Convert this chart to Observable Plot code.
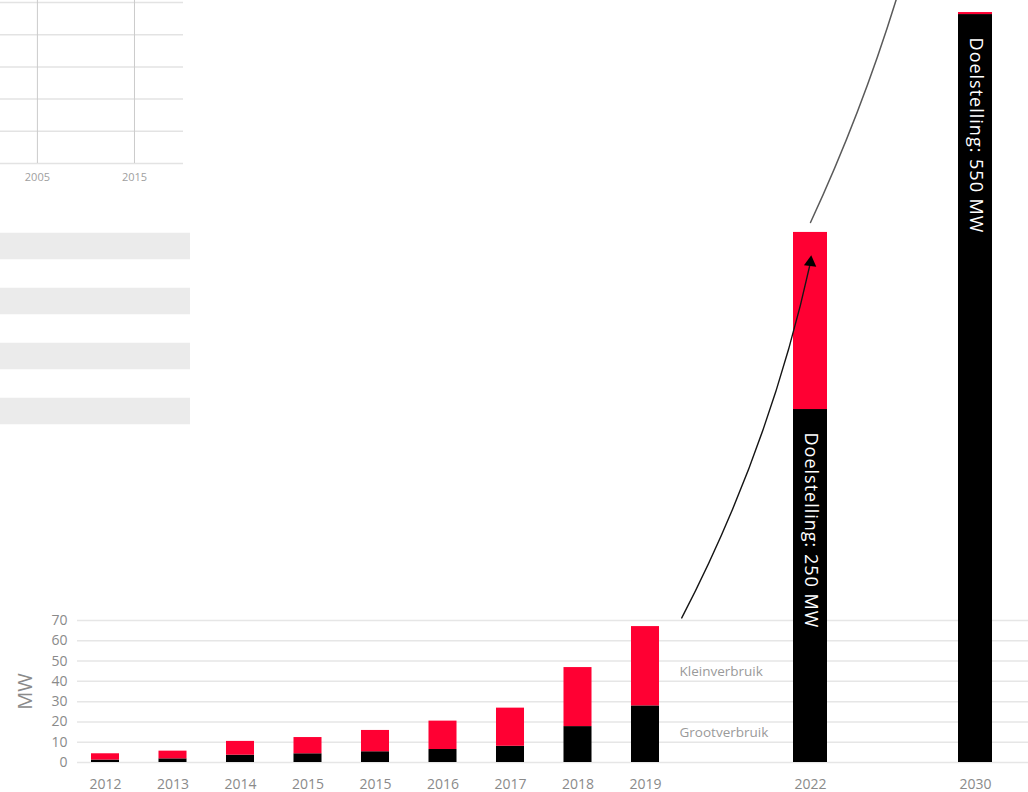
<!DOCTYPE html>
<html>
<head>
<meta charset="utf-8">
<script src="https://cdn.jsdelivr.net/npm/d3@7"></script>
<script src="https://cdn.jsdelivr.net/npm/@observablehq/plot@0.6"></script>
<style>
  body { margin: 0; background: #fff; }
  #wrap { position: relative; width: 1028px; height: 792px; overflow: hidden; background: #fff; font-family: "Open Sans", sans-serif; }
  #wrap > svg { position: absolute; left: 0; top: 0; background: transparent; }
  #wrap g[fill="white"] text { letter-spacing: 1px; }
</style>
</head>
<body>
<div id="wrap"></div>
<script>
// ---------- data ----------
// historic bars (two bars are labelled 2015 in the original)
const yearsHist  = ["2012", "2013", "2014", "2015", "2015", "2016", "2017", "2018", "2019"];
const grootHist  = [1.2, 1.8, 3.6, 4.3, 5.3, 6.4, 8.0, 17.7, 27.9];
const kleinHist  = [3.1, 3.8, 6.8, 8.0, 10.5, 14.0, 18.8, 29.1, 39.1];

// target bars (drawn on the same MW axis, not to scale in the original)
const yearsTarget  = ["2022", "2030"];
const grootTarget  = [174.0, 368.7];
const kleinTarget  = [87.3, 1.0];
const targetLabels = ["Doelstelling: 250 MW", "Doelstelling: 550 MW"];

const seriesNames = ["Grootverbruik", "Kleinverbruik"];
const seriesColors = ["#000000", "#ff0033"];
const yTicks = [0, 10, 20, 30, 40, 50, 60, 70];
const yLabel = "MW";

// arrows (data space: category + MW)
const arrowFrom  = ["2019", "2022"];
const arrowTo    = ["2022", "2030"];
const arrowY1    = [38.9, 266.2];
const arrowY2    = [246.5, 622];

// faded fragment of another chart (top left)
const ghostTicks  = [2005, 2015];
const ghostDomain = [2001.2, 2020.05];
const ghostRows   = [0, 1, 2, 3, 4, 5];
const stripeRows  = ["r1", "r2", "r3", "r4"];
const stripeVals  = [1, 1, 1, 1];

// ---------- layout ----------
const W = 1028, H = 792;
const wrap = document.getElementById("wrap");
const yScale = { domain: [yTicks[0], yTicks[yTicks.length - 1]], range: [762, 620] };
const colorScale = { domain: seriesNames, range: seriesColors };
const font = "Open Sans, sans-serif";
const lastIdx = yearsHist.length - 1;

// ghost grid fragment
const ghostGrid = Plot.plot({
  width: W, height: H,
  marginLeft: 0, marginRight: W - 183, marginTop: 0, marginBottom: H - 163,
  style: { background: "transparent", fontFamily: font },
  x: { domain: ghostDomain, range: [0, 183] },
  y: { domain: [ghostRows[0], ghostRows[ghostRows.length - 1]], range: [163, 2], axis: null },
  marks: [
    Plot.ruleY(ghostRows, { stroke: "#e3e3e3", strokeWidth: 1.5 }),
    Plot.ruleX(ghostTicks, { stroke: "#cbcbcb", strokeWidth: 1 }),
    Plot.axisX(ghostTicks, { tickSize: 0, tickPadding: 10, fontSize: 11, fill: "#a0a0a0", label: null, tickFormat: d => String(d) })
  ]
});
wrap.appendChild(ghostGrid);

// ghost stripes fragment
const ghostStripes = Plot.plot({
  width: W, height: H, margin: 0,
  style: { background: "transparent" },
  x: { domain: [0, 1], range: [0, 190], axis: null },
  y: { type: "band", domain: stripeRows, range: [218.5, 438.5], paddingInner: 0.518, paddingOuter: 0.259, round: false, axis: null },
  marks: [
    Plot.barX(stripeRows, { y: d => d, x: (d, i) => stripeVals[i], fill: "#ebebeb", inset: 0 })
  ]
});
wrap.appendChild(ghostStripes);

// main historic chart
const hist = yearsHist.flatMap((yr, i) => [
  { i, series: seriesNames[0], value: grootHist[i] },
  { i, series: seriesNames[1], value: kleinHist[i] }
]);
const kleinLegend = [{ series: seriesNames[1], y: grootHist[lastIdx] + kleinHist[lastIdx] / 2 }];
const grootLegend = [{ series: seriesNames[0], y: grootHist[lastIdx] / 2 }];
const legendStyle = { x: () => lastIdx, y: "y", text: "series", textAnchor: "start", dx: 34, fontSize: 13.5, fill: "#9a9a9a" };

const plotA = Plot.plot({
  width: W, height: H,
  marginLeft: 77, marginRight: 0, marginTop: 0, marginBottom: H - 762,
  style: { background: "transparent", fontFamily: font },
  x: { type: "band", domain: yearsHist.map((_, i) => i), range: [71.25, 678.75], paddingInner: 0.585, paddingOuter: 0.2925, round: false },
  y: yScale,
  color: colorScale,
  marks: [
    Plot.ruleY(yTicks, { stroke: "#e6e6e6", strokeWidth: 1.5 }),
    Plot.axisY(yTicks, { tickSize: 0, tickPadding: 10, fontSize: 14, fill: "#8a8a8a", label: null }),
    Plot.axisX({ tickSize: 0, tickPadding: 17, fontSize: 14, fill: "#8a8a8a", label: null, tickFormat: i => yearsHist[i] }),
    Plot.barY(hist, { x: "i", y: "value", fill: "series", inset: 0 }),
    Plot.text([yLabel], { frameAnchor: "left", y: [(yTicks[0] + yTicks[yTicks.length - 1]) / 2], text: d => d, rotate: -90, textAnchor: "middle", dx: -52, fontSize: 20, fill: "#8a8a8a" }),
    Plot.text(kleinLegend, { ...legendStyle, dy: 5 }),
    Plot.text(grootLegend, { ...legendStyle, dy: -2 })
  ]
});
wrap.appendChild(plotA);

// target bars
const targets = yearsTarget.flatMap((yr, i) => [
  { year: yr, series: seriesNames[0], value: grootTarget[i] },
  { year: yr, series: seriesNames[1], value: kleinTarget[i] }
]);
const arrows = arrowFrom.map((f, i) => ({ from: f, to: arrowTo[i], y1: arrowY1[i], y2: arrowY2[i] }));

const plotB = Plot.plot({
  width: W, height: H,
  marginLeft: 77, marginRight: 0, marginTop: 0, marginBottom: H - 762,
  style: { background: "transparent", fontFamily: font },
  x: { type: "band", domain: [yearsHist[lastIdx], ...yearsTarget], range: [562.5, 1057.5], paddingInner: 0.794, paddingOuter: 0.397, round: false },
  y: yScale,
  color: colorScale,
  marks: [
    Plot.barY(targets, { x: "year", y: "value", fill: "series", inset: 0 }),
    Plot.axisX(yearsTarget, { tickSize: 0, tickPadding: 17, fontSize: 14, fill: "#8a8a8a", label: null }),
    Plot.axisY([], { label: null, tickSize: 0 }),
    Plot.text(yearsTarget, { x: d => d, y: (d, i) => grootTarget[i], text: (d, i) => targetLabels[i], rotate: 90, textAnchor: "start", dy: 23, fontSize: 18, fill: "white" }),
    Plot.arrow([arrows[0]], { x1: "from", y1: "y1", x2: "to", y2: "y2", bend: -9, insetStart: 75, headLength: 0, stroke: "#151515", strokeWidth: 1.4 }),
    Plot.dot([arrows[0]], { x: "to", y: "y2", symbol: "triangle", r: 4.6, fill: "#000", stroke: null, rotate: 6 }),
    Plot.arrow([arrows[1]], { x1: "from", y1: "y1", x2: "to", y2: "y2", bend: -12, stroke: "#5a5a5a", strokeWidth: 1.5 })
  ]
});
wrap.appendChild(plotB);
</script>
</body>
</html>
